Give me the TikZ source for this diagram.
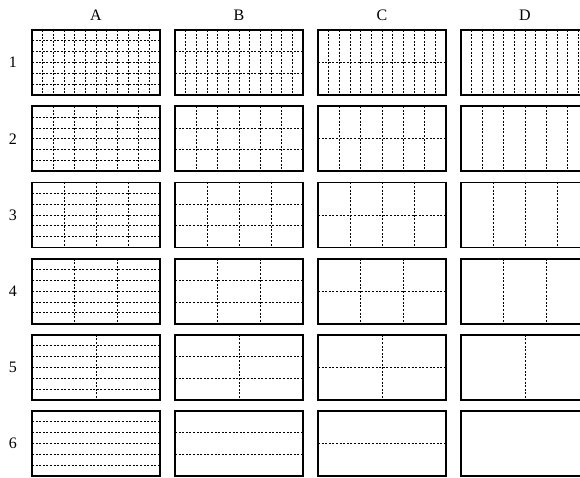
\documentclass[tikz,border=0pt]{standalone}
\usepackage{fontspec}
\setmainfont{Liberation Serif}
\begin{document}
\begin{tikzpicture}[x=1pt,y=-1pt,
  cellbox/.style={draw=black,line width=1.8pt},
  gridline/.style={draw=black,line width=0.7pt,dash pattern=on 2pt off 1.6pt},
  lbl/.style={font=\fontsize{16}{18}\selectfont,inner sep=0pt}]
\useasboundingbox (0,0) rectangle (580,477);
\clip (0,0) rectangle (580,477);
\foreach \c/\name/\nh [count=\ci from 0] in {A/A/6,B/B/3,C/C/2,D/D/1}{
  \pgfmathsetmacro{\xl}{32+143*\ci}
  \node[lbl] (col\c) at (\xl+64,15) {\name};
  \foreach \r/\nv [count=\ri from 0] in {1/12,2/6,3/4,4/3,5/2,6/1}{
    \pgfmathsetmacro{\yt}{30+76.2*\ri}
    \ifnum\nh>1
      \foreach \k in {2,...,\nh}{
        \draw[gridline] (\xl,{\yt+65*(\k-1)/\nh}) -- ++(128,0);
      }
    \fi
    \ifnum\nv>1
      \foreach \k in {2,...,\nv}{
        \draw[gridline] ({\xl+128*(\k-1)/\nv},\yt) -- ++(0,65);
      }
    \fi
    \draw[cellbox] (\xl,\yt) rectangle ++(128,65);
  }
}
\foreach \r [count=\ri from 0] in {1,...,6}{
  \node[lbl] (row\r) at (13,{62.5+76.2*\ri}) {\r};
}
\end{tikzpicture}
\end{document}
